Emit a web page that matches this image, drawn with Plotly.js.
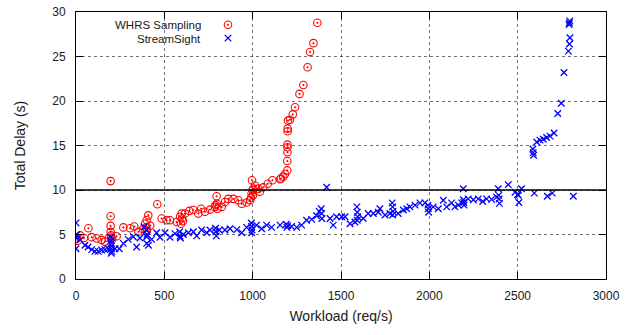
<!DOCTYPE html>
<html>
<head>
<meta charset="utf-8">
<script src="https://cdn.plot.ly/plotly-3.0.1.min.js"></script>
<style>html,body{margin:0;padding:0;background:#fff}#chart{width:639px;height:335px}</style>
</head>
<body>
<div id="chart"></div>
<script>
// WHRS Sampling (red circles)
const whrsX = [4,10,23,45,70,89,117,145,164,185,196,196,196,196,198,200,205,230,268,306,330,353,380,391,398,400,402,409,420,460,485,513,532,570,589,594,598,600,605,617,641,664,692,708,730,759,787,790,796,798,800,825,843,862,891,919,938,966,985,990,994,996,1000,1002,1004,1013,1032,1041,1060,1085,1112,1155,1160,1173,1183,1196,1196,1197,1197,1197,1198,1198,1200,1211,1227,1240,1265,1287,1311,1325,1344,1366];
const whrsY = [4.55,4.3,4.9,4.6,5.7,4.7,4.55,4.4,4.2,4.6,11.0,7.05,5.97,5.3,4.9,4.67,4.5,4.8,5.8,5.7,5.9,5.3,5.6,6.2,5.8,6.6,5.4,7.15,6.0,8.4,6.8,6.6,6.6,6.4,7.0,6.2,7.35,6.8,6.5,7.35,7.65,7.75,7.35,7.9,7.55,7.8,8.1,8.3,9.3,8.45,7.9,8.1,8.65,9.0,9.0,8.85,8.45,8.6,8.85,9.1,9.6,11.1,10.0,9.4,10.15,10.5,10.15,9.8,10.3,10.7,11.1,11.2,11.3,11.5,11.8,12.2,13.25,14.25,14.8,15.1,16.6,16.9,17.8,17.9,18.5,19.3,20.8,21.8,23.8,25.5,26.5,28.8];

// StreamSight (blue crosses)
const ssX = [0,0,0,5,23,51,68,89,107,126,145,164,183,196,198,200,200,200,202,200,221,245,268,296,324,343,362,385,398,400,400,410,402,428,456,475,504,532,560,587,589,591,607,636,664,683,711,740,758,790,792,794,811,843,872,910,938,966,992,994,996,994,1022,1051,1079,1107,1155,1190,1194,1198,1220,1249,1277,1305,1334,1362,1377,1388,1390,1392,1419,1438,1456,1475,1504,1523,1551,1579,1590,1592,1594,1592,1626,1654,1683,1711,1720,1749,1777,1790,1792,1794,1792,1824,1853,1872,1890,1919,1947,1975,1992,1994,1996,2022,2051,2079,2098,2126,2145,2164,2183,2192,2193,2195,2197,2220,2249,2277,2302,2324,2352,2381,2390,2393,2395,2397,2447,2485,2500,2504,2507,2522,2586,2588,2590,2594,2608,2626,2645,2664,2668,2683,2696,2706,2727,2747,2762,2787,2793,2796,2791,2793,2795,2815];
const ssY = [6.3,3.4,4.65,5.0,4.4,3.8,3.6,3.3,3.1,3.1,3.25,3.3,3.4,4.7,4.3,4.0,3.7,3.4,3.1,2.9,3.4,3.4,4.0,4.45,4.75,3.6,4.6,5.85,5.5,4.75,4.0,3.8,5.0,4.45,5.2,4.7,5.2,4.7,5.1,5.3,4.8,4.6,5.0,5.2,5.3,4.85,5.5,5.2,5.5,5.7,5.3,4.85,5.5,5.5,5.65,5.55,5.2,5.8,6.3,5.9,5.5,5.2,6.05,5.65,6.05,5.8,6.05,6.15,5.8,6.0,5.9,5.8,6.05,6.6,6.7,7.1,7.6,7.9,7.35,6.8,10.3,6.8,6.05,7.0,7.0,7.0,6.2,6.4,8.1,7.5,7.0,6.6,6.8,7.35,7.35,7.5,7.9,7.2,7.35,8.55,8.1,7.6,7.2,7.35,7.75,7.9,8.1,8.3,8.55,8.55,8.3,7.9,7.5,8.1,7.9,8.85,8.1,8.55,8.1,8.3,8.55,10.15,8.9,8.6,8.3,9.0,8.9,9.0,8.7,9.0,8.95,9.2,10.15,9.4,9.0,8.5,10.6,9.75,9.5,9.4,8.6,10.15,14.6,14.2,13.9,9.65,15.4,15.6,15.7,15.9,9.3,16.05,9.65,16.4,18.6,19.75,23.2,25.6,26.4,27.1,28.6,28.8,29.0,9.3];

const seriesNames = ['WHRS Sampling', 'StreamSight'];
const thresholdDelay = 10;
const xTicks = [0,500,1000,1500,2000,2500,3000];
const yTicks = [0,5,10,15,20,25,30];

const FONT = 'Liberation Sans, Arial, Helvetica, sans-serif';
const TXT = '#1a1a1a';

const traces = [
  {x: whrsX, y: whrsY, type: 'scatter', mode: 'markers', name: ' ',
   legend: 'legend',
   marker: {symbol: 'circle-open-dot', size: 7.5, color: '#ff0000', line: {width: 1.1, color: '#ff0000'}}},
  {x: ssX, y: ssY, type: 'scatter', mode: 'markers', name: ' ',
   legend: 'legend2',
   marker: {symbol: 'x-thin-open', size: 6.5, color: '#0000ff', line: {width: 1.3, color: '#0000ff'}}}
];

const axisCommon = {
  showline: true, linecolor: '#000', linewidth: 1, mirror: 'ticks',
  ticks: 'inside', ticklen: 7, tickcolor: '#000', tickwidth: 1,
  showgrid: true, gridcolor: 'rgba(0,0,0,0.55)', griddash: 'dot', gridwidth: 1,
  zeroline: false, tickfont: {family: FONT, size: 12, color: TXT}
};

const layout = {
  width: 639, height: 335,
  margin: {l: 76, r: 33, t: 11, b: 56},
  paper_bgcolor: '#fff', plot_bgcolor: '#fff',
  showlegend: true,
  xaxis: Object.assign({}, axisCommon, {
    range: [0, 3000], tickvals: xTicks, ticklabelstandoff: 6,
    title: {text: 'Workload (req/s)', font: {family: FONT, size: 14, color: TXT}, standoff: 8}
  }),
  yaxis: Object.assign({}, axisCommon, {
    range: [0, 30], tickvals: yTicks, ticklabelstandoff: 7,
    title: {text: 'Total Delay (s)', font: {family: FONT, size: 14, color: TXT}, standoff: 23}
  }),
  legend: {x: 0.249, y: 1.003, xanchor: 'left', yanchor: 'top', bgcolor: 'rgba(0,0,0,0)', borderwidth: 0,
           font: {size: 11, family: FONT}, itemwidth: 30},
  legend2: {x: 0.249, y: 0.953, xanchor: 'left', yanchor: 'top', bgcolor: 'rgba(0,0,0,0)', borderwidth: 0,
           font: {size: 11, family: FONT}, itemwidth: 30},
  shapes: [{type: 'line', xref: 'paper', x0: 0, x1: 1, yref: 'y', y0: thresholdDelay, y1: thresholdDelay,
            line: {color: '#000', width: 1.3}}],
  annotations: [
    {xref: 'paper', yref: 'paper', x: 0.2377, y: 0.9496, xanchor: 'right', yanchor: 'middle', showarrow: false,
     borderpad: 0,
     text: seriesNames[0], font: {family: FONT, size: 11.5, color: TXT}},
    {xref: 'paper', yref: 'paper', x: 0.2377, y: 0.8993, xanchor: 'right', yanchor: 'middle', showarrow: false,
     borderpad: 0,
     text: seriesNames[1], font: {family: FONT, size: 11.5, color: TXT}}
  ]
};

Plotly.newPlot('chart', traces, layout, {displayModeBar: false, staticPlot: true});
</script>
</body>
</html>
